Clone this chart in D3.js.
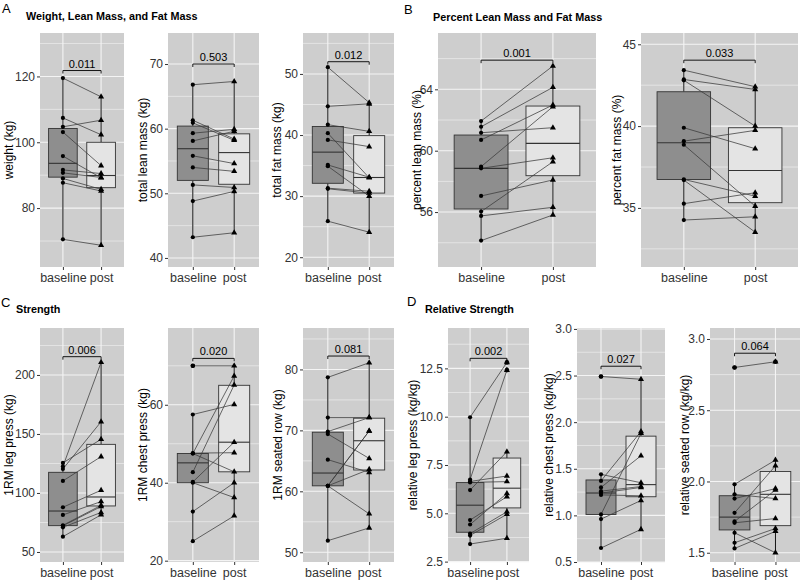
<!DOCTYPE html>
<html><head><meta charset="utf-8">
<script src="https://cdn.jsdelivr.net/npm/d3@7"></script>
<style>
body{margin:0;background:#fff;}
svg{display:block;font-family:"Liberation Sans",Arial,Helvetica,sans-serif;}
</style>
</head><body>
<svg id="chart" width="800" height="581"></svg>
<script>
const groups = ["baseline", "post"];

// ---- A: weight, lean mass, fat mass ----
const weightBaseline = [119.5, 107.4, 104.7, 103.1, 95.8, 91.6, 90.7, 89.0, 87.7, 70.5];
const weightPost     = [113.8, 102.3, 106.7, 92.9, 89.2, 90.5, 89.3, 85.7, 85.2, 68.7];
const weightBox      = [[89.4, 93.6, 104.2, 70.5, 119.5], [86.2, 89.9, 100.0, 68.7, 113.8]];
const weightTicks    = [80, 100, 120];

const leanBaseline = [66.8, 61.3, 60.9, 59.3, 58.1, 55.8, 54.0, 51.3, 48.8, 43.2];
const leanPost     = [67.3, 58.4, 58.2, 59.9, 59.6, 54.6, 53.4, 50.9, 50.3, 43.9];
const leanBox      = [[52.0, 56.9, 60.4, 43.2, 66.8], [51.4, 56.3, 59.2, 43.9, 67.3]];
const leanTicks    = [40, 50, 60, 70];

const fatBaseline = [51.1, 44.7, 41.7, 40.3, 39.2, 35.1, 34.9, 31.3, 31.2, 25.9];
const fatPost     = [45.3, 45.1, 40.6, 33.0, 38.1, 33.1, 30.0, 30.8, 30.5, 24.1];
const fatBox      = [[32.1, 37.2, 41.4, 25.9, 51.1], [30.5, 33.05, 39.9, 24.1, 45.3]];
const fatTicks    = [20, 30, 40, 50];

// ---- B: percent lean / fat ----
const pctLeanBaseline = [61.93, 61.56, 61.17, 60.70, 58.96, 58.85, 57.05, 56.03, 55.75, 54.14];
const pctLeanPost     = [65.52, 64.13, 61.50, 62.98, 62.87, 59.54, 58.09, 59.28, 56.31, 55.81];
const pctLeanBox      = [[56.2, 58.85, 61.02, 54.14, 61.93], [58.37, 60.48, 62.91, 55.81, 65.52]];
const pctLeanTicks    = [56, 60, 64];

const pctFatBaseline = [43.42, 42.85, 42.80, 39.90, 39.08, 38.86, 36.74, 36.70, 35.26, 34.26];
const pctFatPost     = [42.41, 42.24, 40.00, 38.62, 39.74, 35.11, 35.72, 33.52, 35.93, 34.46];
const pctFatBox      = [[36.74, 38.98, 42.1, 34.26, 43.42], [35.32, 37.29, 39.9, 33.52, 42.41]];
const pctFatTicks    = [35, 40, 45];

// ---- C: strength ----
const legBaseline = [125.5, 122.5, 120.3, 110.2, 87.9, 81.4, 72.6, 72.2, 70.9, 63.0];
const legPost     = [145.5, 210.7, 160.4, 130.8, 102.3, 92.7, 89.5, 88.5, 83.5, 81.5];
const legBox      = [[72.3, 84.7, 117.5, 63.0, 125.5], [89.0, 96.6, 141.2, 81.5, 210.7]];
const legTicks    = [50, 100, 150, 200];

const chestBaseline = [70.0, 57.5, 47.6, 47.5, 47.5, 42.7, 40.2, 40.0, 32.6, 25.0];
const chestPost     = [70.0, 60.1, 47.7, 42.8, 67.4, 65.1, 50.4, 36.2, 40.0, 31.5];
const chestBox      = [[40.0, 45.1, 47.5, 25.0, 57.5], [42.8, 50.4, 65.0, 31.5, 70.0]];
const chestTicks    = [20, 40, 60];

const rowBaseline = [78.7, 72.1, 69.8, 69.4, 65.2, 60.9, 60.9, 60.9, 60.9, 51.9];
const rowPost     = [81.1, 72.1, 72.1, 65.4, 63.1, 69.9, 69.9, 63.6, 56.3, 54.0];
const rowBox      = [[60.9, 63.0, 69.7, 51.9, 78.7], [63.5, 68.3, 72.0, 54.0, 81.1]];
const rowTicks    = [50, 60, 70, 80];

// ---- D: relative strength ----
const relLegBaseline = [9.97, 6.75, 6.65, 6.60, 6.20, 4.65, 4.42, 3.95, 3.85, 3.41];
const relLegPost     = [12.81, 12.41, 6.93, 6.64, 8.19, 5.86, 6.03, 5.08, 4.95, 3.71];
const relLegBox      = [[4.02, 5.42, 6.59, 3.41, 9.97], [5.28, 6.30, 7.86, 3.71, 8.19]];
const relLegTicks    = [2.5, 5.0, 7.5, 10.0, 12.5];

const relChestBaseline = [2.49, 1.44, 1.37, 1.30, 1.26, 1.24, 1.22, 1.01, 0.96, 0.65];
const relChestPost     = [2.46, 1.35, 1.90, 1.64, 1.31, 1.30, 1.21, 1.88, 1.16, 0.85];
const relChestBox      = [[1.01, 1.24, 1.38, 0.65, 1.44], [1.20, 1.33, 1.85, 0.85, 2.46]];
const relChestTicks    = [0.5, 1.0, 1.5, 2.0, 2.5, 3.0];

const relRowBaseline = [2.80, 1.98, 1.91, 1.88, 1.78, 1.72, 1.71, 1.64, 1.57, 1.53];
const relRowPost     = [2.84, 2.15, 1.88, 1.95, 2.11, 1.94, 1.74, 1.50, 1.67, 1.65];
const relRowBox      = [[1.66, 1.75, 1.90, 1.53, 1.98], [1.69, 1.91, 2.07, 1.50, 2.15]];
const relRowTicks    = [1.5, 2.0, 2.5, 3.0];

// p-values and bracket heights (data units)
const pValues   = ["0.011", "0.503", "0.012", "0.001", "0.033", "0.006", "0.020", "0.081", "0.002", "0.027", "0.064"];
const bracketAt = [121.8, 70.0, 52.0, 65.9, 44.03, 215.5, 71.9, 82.2, 13.02, 2.60, 2.90];
const yTitles = ["weight (kg)", "total lean mass (kg)", "total fat mass (kg)",
  "percent lean mass (%)", "percent fat mass (%)",
  "1RM leg press (kg)", "1RM chest press (kg)", "1RM seated row (kg)",
  "relative leg press (kg/kg)", "relative chest press (kg/kg)", "relative seated row (kg/kg)"];
const yDomains = [[62.1, 133.2], [38.6, 74.8], [18.4, 56.7], [52.42, 67.67], [31.39, 45.69],
  [41.5, 239.8], [19.66, 79.7], [48.4, 86.8], [2.48, 14.59], [0.5, 3.01], [1.435, 3.077]];

const seriesBase = [weightBaseline, leanBaseline, fatBaseline, pctLeanBaseline, pctFatBaseline,
  legBaseline, chestBaseline, rowBaseline, relLegBaseline, relChestBaseline, relRowBaseline];
const seriesPost = [weightPost, leanPost, fatPost, pctLeanPost, pctFatPost,
  legPost, chestPost, rowPost, relLegPost, relChestPost, relRowPost];
const boxes = [weightBox, leanBox, fatBox, pctLeanBox, pctFatBox, legBox, chestBox, rowBox, relLegBox, relChestBox, relRowBox];
const tickSets = [weightTicks, leanTicks, fatTicks, pctLeanTicks, pctFatTicks, legTicks, chestTicks, rowTicks, relLegTicks, relChestTicks, relRowTicks];

// layout (pixels)
const R1 = [33, 267], R2 = [328, 562];
const frames = [
  {l: 40, r: 124, row: R1, tx: 9, dec: 0},
  {l: 168, r: 259, row: R1, tx: 143, dec: 0},
  {l: 303, r: 394, row: R1, tx: 277, dec: 0},
  {l: 438, r: 596, row: R1, tx: 417, dec: 0},
  {l: 641, r: 798, row: R1, tx: 617, dec: 0},
  {l: 40, r: 124, row: R2, tx: 9, dec: 0},
  {l: 168, r: 259, row: R2, tx: 143, dec: 0},
  {l: 303, r: 394, row: R2, tx: 278, dec: 0},
  {l: 448, r: 529, row: R2, tx: 413, dec: 1},
  {l: 577, r: 665, row: R2, tx: 549, dec: 1},
  {l: 710, r: 800, row: R2, tx: 685, dec: 1}
];

const C = {panel: "#cecece", grid: "#f4f4f4", boxBase: "#8e8e8e", boxPost: "#e4e4e4", line: "#3a3a3a", text: "#333"};

const svg = d3.select("#chart");
svg.append("rect").attr("width", 800).attr("height", 581).attr("fill", "#fff");

frames.forEach((f, k) => {
  const g = svg.append("g");
  const top = f.row[0], bot = f.row[1];
  const x = d3.scalePoint().domain(groups).range([f.l, f.r]).padding(0.6);
  const y = d3.scaleLinear().domain(yDomains[k]).range([bot, top]);
  const step = x.step();
  const ticks = tickSets[k];
  const dt = ticks[1] - ticks[0];

  g.append("rect").attr("x", f.l).attr("y", top).attr("width", f.r - f.l).attr("height", bot - top).attr("fill", C.panel);

  // minor grid
  const minor = d3.range(ticks[0] - dt / 2, ticks[ticks.length - 1] + dt, dt)
    .filter(v => v >= yDomains[k][0] && v <= yDomains[k][1]);
  g.selectAll(".mn").data(minor).enter().append("line")
    .attr("x1", f.l).attr("x2", f.r).attr("y1", d => y(d)).attr("y2", d => y(d))
    .attr("stroke", C.grid).attr("stroke-width", 0.6);
  g.selectAll(".mj").data(ticks).enter().append("line")
    .attr("x1", f.l).attr("x2", f.r).attr("y1", d => y(d)).attr("y2", d => y(d))
    .attr("stroke", C.grid).attr("stroke-width", 1.1);
  g.selectAll(".vg").data(groups).enter().append("line")
    .attr("x1", d => x(d)).attr("x2", d => x(d)).attr("y1", top).attr("y2", bot)
    .attr("stroke", C.grid).attr("stroke-width", 1.1);

  // axes
  const fmt = f.dec ? d3.format(".1f") : d3.format("d");
  const ya = g.append("g").attr("transform", `translate(${f.l},0)`)
    .call(d3.axisLeft(y).tickValues(ticks).tickSize(3).tickPadding(2).tickFormat(fmt));
  ya.select(".domain").remove();
  ya.selectAll("line").attr("stroke", C.text);
  ya.selectAll("text").attr("font-size", "12px").attr("fill", C.text).attr("font-family", null);
  const xa = g.append("g").attr("transform", `translate(0,${bot})`)
    .call(d3.axisBottom(x).tickSize(3).tickPadding(3));
  xa.select(".domain").remove();
  xa.selectAll("line").attr("stroke", C.text);
  xa.selectAll("text").attr("font-size", "12.5px").attr("fill", C.text).attr("font-family", null);

  // y title
  g.append("text").attr("transform", `translate(${f.tx},${(top + bot) / 2}) rotate(-90)`)
    .attr("text-anchor", "middle").attr("dy", "0.35em").attr("font-size", "12px").attr("fill", "#000")
    .text(yTitles[k]);

  // boxes
  const bw = step * 0.75;
  groups.forEach((gr, j) => {
    const [q1, med, q3, lo, hi] = boxes[k][j];
    const cx = x(gr);
    g.append("line").attr("x1", cx).attr("x2", cx).attr("y1", y(q3)).attr("y2", y(hi)).attr("stroke", "#111").attr("stroke-width", 1);
    g.append("line").attr("x1", cx).attr("x2", cx).attr("y1", y(q1)).attr("y2", y(lo)).attr("stroke", "#111").attr("stroke-width", 1);
    g.append("rect").attr("x", cx - bw / 2).attr("width", bw).attr("y", y(q3)).attr("height", y(q1) - y(q3))
      .attr("fill", j === 0 ? C.boxBase : C.boxPost).attr("stroke", "#333").attr("stroke-width", 0.9);
    g.append("line").attr("x1", cx - bw / 2).attr("x2", cx + bw / 2).attr("y1", y(med)).attr("y2", y(med))
      .attr("stroke", "#333").attr("stroke-width", 1.1);
  });

  // paired lines
  const b = seriesBase[k], p = seriesPost[k];
  g.selectAll(".pl").data(b).enter().append("line")
    .attr("x1", x("baseline")).attr("x2", x("post"))
    .attr("y1", d => y(d)).attr("y2", (d, i) => y(p[i]))
    .attr("stroke", C.line).attr("stroke-width", 0.75);

  // points
  g.selectAll(".bp").data(b).enter().append("circle")
    .attr("cx", x("baseline")).attr("cy", d => y(d)).attr("r", 2.1).attr("fill", "#000");
  const tri = d3.symbol().type(d3.symbolTriangle).size(16);
  g.selectAll(".pp").data(p).enter().append("path")
    .attr("d", tri).attr("transform", d => `translate(${x("post")},${y(d)})`).attr("fill", "#000");

  // outliers (beyond whiskers)
  groups.forEach((gr, j) => {
    const vals = j === 0 ? b : p;
    const [, , , lo, hi] = boxes[k][j];
    g.selectAll(".ol" + j).data(vals.filter(v => v > hi + 1e-9 || v < lo - 1e-9)).enter().append("circle")
      .attr("cx", x(gr)).attr("cy", d => y(d)).attr("r", 2.3).attr("fill", "#000");
  });

  // significance bracket
  const yb = y(bracketAt[k]);
  g.append("path").attr("d", `M${x("baseline")},${yb + 3}V${yb}H${x("post")}V${yb + 3}`)
    .attr("fill", "none").attr("stroke", "#000").attr("stroke-width", 0.9);
  g.append("text").attr("x", (x("baseline") + x("post")) / 2).attr("y", yb - 3)
    .attr("text-anchor", "middle").attr("font-size", "11px").attr("fill", "#000").text(pValues[k]);
});

// panel letters and section titles
const letters = [["A", 2, 13], ["B", 404, 14], ["C", 1, 307], ["D", 407, 306]];
letters.forEach(([t, lx, ly]) => svg.append("text").attr("x", lx).attr("y", ly).attr("font-size", "13px").attr("fill", "#000").text(t));
const sectionTitles = [["Weight, Lean Mass, and Fat Mass", 26, 20], ["Percent Lean Mass and Fat Mass", 433, 20.5],
  ["Strength", 16, 313], ["Relative Strength", 425, 313]];
sectionTitles.forEach(([t, tx, ty]) => svg.append("text").attr("x", tx).attr("y", ty)
  .attr("font-size", "10.8px").attr("font-weight", "bold").attr("fill", "#000").text(t));
</script>
</body></html>
